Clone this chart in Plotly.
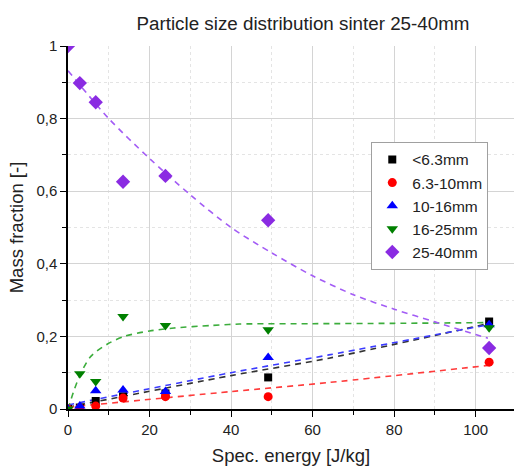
import plotly.graph_objects as go

# ---- data ----
energy = [0, 2.9, 6.8, 13.5, 23.9, 49.1, 103.3]

frac_lt63 = [0.0, 0.004, 0.022, 0.035, 0.043, 0.087, 0.241]
frac_63_10 = [0.0, 0.003, 0.008, 0.030, 0.034, 0.034, 0.129]
frac_10_16 = [0.0, 0.008, 0.050, 0.052, 0.048, 0.142, 0.232]
frac_16_25 = [0.0, 0.097, 0.076, 0.255, 0.230, 0.218, 0.224]
frac_25_40 = [1.0, 0.898, 0.845, 0.626, 0.642, 0.520, 0.168]

# fitted trend lines
fit_lin_x = [0, 40, 64, 103]
fit_lt63 = [0.005, 0.092, 0.140, 0.235]
fit_63_10 = [0.005, 0.048, 0.073, 0.120]
fit_10_16 = [0.011, 0.100, 0.149, 0.232]

fit_16_25_x = [0, 1.5, 3, 5.6, 9.7, 13.8, 20, 26, 35, 42, 60, 80, 103]
fit_16_25 = [0.0, 0.052, 0.095, 0.145, 0.179, 0.200, 0.215, 0.223, 0.230, 0.234, 0.235, 0.236, 0.238]

fit_25_40_x = [0, 10, 20, 30, 40, 50, 60, 70, 80, 90, 100, 103]
fit_25_40 = [0.932, 0.800, 0.690, 0.590, 0.500, 0.430, 0.367, 0.315, 0.275, 0.240, 0.205, 0.195]

names = ["<6.3mm", "6.3-10mm", "10-16mm", "16-25mm", "25-40mm"]
y_ticks = [0, 0.2, 0.4, 0.6, 0.8, 1]
y_ticktext = ["0", "0,2", "0,4", "0,6", "0,8", "1"]
x_ticks = [0, 20, 40, 60, 80, 100]

marker_colors = ["#000000", "#ff0000", "#0000ff", "#008000", "#8a2be2"]
line_colors = ["#333333", "#ff3b3b", "#3b3bff", "#3cad3c", "#a35cf5"]
symbols = ["square", "circle", "triangle-up", "triangle-down", "diamond"]
sizes = [8, 9, 10, 10, 11]

fig = go.Figure()

fits = [
    (fit_lin_x, fit_lt63),
    (fit_lin_x, fit_63_10),
    (fit_lin_x, fit_10_16),
    (fit_16_25_x, fit_16_25),
    (fit_25_40_x, fit_25_40),
]
for i, (fx, fy) in enumerate(fits):
    fig.add_trace(go.Scatter(
        x=fx, y=fy, mode="lines", showlegend=False, hoverinfo="skip",
        line=dict(color=line_colors[i], width=1.6, dash="6px,5px",
                  shape="spline", smoothing=0.8),
    ))

series = [frac_lt63, frac_63_10, frac_10_16, frac_16_25, frac_25_40]
for i, ys in enumerate(series):
    fig.add_trace(go.Scatter(
        x=energy, y=ys, mode="markers", name=names[i],
        marker=dict(color=marker_colors[i], symbol=symbols[i], size=sizes[i],
                    line=dict(width=0)),
    ))

fig.update_layout(
    width=514, height=466,
    margin=dict(l=68, r=0, t=46, b=57, autoexpand=False),
    paper_bgcolor="white", plot_bgcolor="white",
    font=dict(family="Liberation Sans, Arial, sans-serif", color="#222222", size=15),
    title=dict(text="Particle size distribution sinter 25-40mm",
               x=303 / 514, xref="container", xanchor="center",
               y=1 - 23 / 466, yref="container", yanchor="middle",
               font=dict(size=18.8, color="#222222")),
    legend=dict(x=0.68, y=0.736, xanchor="left", yanchor="top",
                bordercolor="#a0a0a0", borderwidth=1, bgcolor="white",
                font=dict(size=15.5, color="#222222"),
                tracegroupgap=0),
    showlegend=True,
)

fig.update_xaxes(
    range=[0, 109.4], tickvals=x_ticks, automargin=False,
    showline=True, linecolor="black", linewidth=1.5,
    ticks="outside", ticklen=6, tickcolor="black", tickwidth=1,
    showgrid=True, gridcolor="#d4d4d4", gridwidth=1,
    zeroline=False,
    minor=dict(dtick=10, tick0=0, ticks="outside", ticklen=4, tickcolor="black",
               showgrid=True, gridcolor="#e4e4e4", griddash="dot", gridwidth=1),
    title=dict(text="Spec. energy [J/kg]", font=dict(size=18.5, color="#222222"), standoff=14),
)
fig.update_yaxes(
    range=[0, 1], tickvals=y_ticks, ticktext=y_ticktext, automargin=False,
    showline=True, linecolor="black", linewidth=1.5,
    ticks="outside", ticklen=6, tickcolor="black", tickwidth=1,
    showgrid=True, gridcolor="#d4d4d4", gridwidth=1,
    zeroline=False,
    minor=dict(dtick=0.1, tick0=0, ticks="outside", ticklen=4, tickcolor="black",
               showgrid=True, gridcolor="#e4e4e4", griddash="dot", gridwidth=1),
    title=dict(text="Mass fraction [-]", font=dict(size=18.5, color="#222222"), standoff=8),
)

fig.write_html("out.html",
               config={"displayModeBar": False},
               post_script="document.body.style.margin='0';document.body.style.overflow='hidden';")
